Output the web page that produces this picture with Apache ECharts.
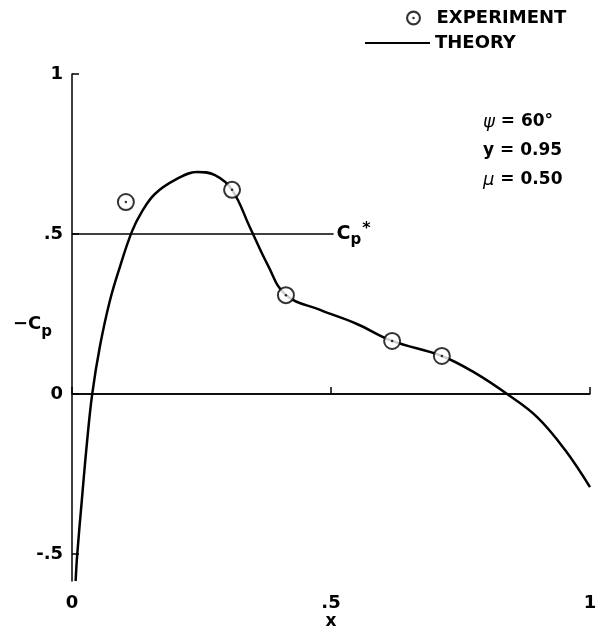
<!DOCTYPE html>
<html>
<head>
<meta charset="utf-8">
<script src="https://cdn.jsdelivr.net/npm/echarts@6/dist/echarts.min.js"></script>
<style>html,body{margin:0;padding:0;background:#fff}#c{width:603px;height:632px}</style>
</head>
<body>
<div id="c"></div>
<script>
// Theory curve (x, -Cp)
const theoryX = [0.007,0.010,0.019,0.029,0.039,0.054,0.073,0.093,0.116,0.135,0.160,0.199,0.241,0.276,0.309,0.344,0.378,0.413,0.479,0.550,0.618,0.714,0.778,0.840,0.898,0.952,1.000];
const theoryY = [-0.584,-0.503,-0.331,-0.150,0.000,0.150,0.291,0.400,0.509,0.570,0.625,0.669,0.694,0.684,0.638,0.519,0.403,0.309,0.263,0.219,0.166,0.119,0.066,0.000,-0.072,-0.175,-0.291];
// Experiment points
const expX = [0.104,0.309,0.413,0.618,0.714];
const expY = [0.600,0.638,0.309,0.166,0.119];
// Tick labels
const xTicks = [0, 0.5, 1];
const yTicks = [-0.5, 0, 0.5, 1];
const xTickLabels = ['0', '.5', '1'];
const yTickLabels = ['-.5', '0', '.5', '1'];
// Reference lines: zero line and Cp* level
const zeroLevel = 0;
const cpStarLevel = 0.5;
const cpStarEnd = 0.505;
// Annotations
const notes = ['{g|ψ} = 60°', 'y = 0.95', '{g|μ} = 0.50'];

const FONT = 'DejaVu Sans';
const chart = echarts.init(document.getElementById('c'), null, {renderer: 'canvas'});
const ringDot = 'path://M7,0A7,7,0,1,1,-7,0A7,7,0,1,1,7,0ZM5,0A5,5,0,1,0,-5,0A5,5,0,1,0,5,0ZM1.2,0A1.2,1.2,0,1,1,-1.2,0A1.2,1.2,0,1,1,1.2,0Z';
const expData = expX.map((x, i) => [x, expY[i]]);

const option = {
  animation: false,
  backgroundColor: '#fff',
  grid: {left: 72, right: 13, top: 74, bottom: 51, containLabel: false, outerBoundsMode: 'none'},
  legend: [
    {data: [{name: 'EXPERIMENT', icon: ringDot, itemStyle: {color: '#000', borderWidth: 0}}], left: 401, top: 4, itemWidth: 36, itemHeight: 15,
     textStyle: {fontFamily: FONT, fontWeight: 'bold', fontSize: 18, color: '#000'}, selectedMode: false},
    {data: [{name: 'THEORY', icon: 'rect'}], left: 360, top: 29, itemWidth: 65, itemHeight: 2,
     textStyle: {fontFamily: FONT, fontWeight: 'bold', fontSize: 18, color: '#000'}, selectedMode: false}
  ],
  xAxis: {
    type: 'value', min: 0, max: 1, interval: 0.5,
    name: 'x', nameLocation: 'middle', nameGap: 32, nameMoveOverlap: false,
    nameTextStyle: {fontFamily: FONT, fontWeight: 'bold', fontSize: 17, color: '#000'},
    axisLine: {show: true, lineStyle: {color: '#000', width: 1.5}},
    axisTick: {show: true, inside: true, length: 7, lineStyle: {color: '#000', width: 1.5}},
    axisLabel: {margin: 13, fontFamily: FONT, fontWeight: 'bold', fontSize: 18, color: '#000',
      formatter: v => { const i = xTicks.indexOf(v); return i >= 0 ? xTickLabels[i] : ''; }},
    splitLine: {show: false}
  },
  yAxis: {
    type: 'value', min: -0.584, max: 1,
    name: '{a|−C}{s|p}', nameLocation: 'middle', nameRotate: 0, nameGap: 20, nameMoveOverlap: false,
    nameTextStyle: {rich: {
      a: {fontFamily: FONT, fontWeight: 'bold', fontSize: 18, color: '#000', padding: [0,0,6,0]},
      s: {fontFamily: FONT, fontWeight: 'bold', fontSize: 15, color: '#000', padding: [10,0,0,0]}
    }},
    axisLine: {show: true, lineStyle: {color: '#000', width: 1.5}},
    axisTick: {show: true, inside: true, length: 7, customValues: yTicks, lineStyle: {color: '#000', width: 1.5}},
    axisLabel: {margin: 9, fontFamily: FONT, fontWeight: 'bold', fontSize: 18, color: '#000', customValues: yTicks,
      formatter: v => { const i = yTicks.indexOf(v); return i >= 0 ? yTickLabels[i] : ''; }},
    splitLine: {show: false}
  },
  series: [
    {
      name: 'THEORY', type: 'line', symbol: 'none', smooth: 0.4,
      data: theoryX.map((x, i) => [x, theoryY[i]]),
      lineStyle: {color: '#000', width: 2.5},
      itemStyle: {color: '#000'},
      z: 3,
      markLine: {
        silent: true, symbol: ['none', 'none'], animation: false,
        lineStyle: {color: '#000', width: 1.5, type: 'solid'},
        data: [
          [{coord: [0, zeroLevel], label: {show: false}}, {coord: [1, zeroLevel]}],
          [{coord: [0, cpStarLevel]}, {coord: [cpStarEnd, cpStarLevel]}]
        ],
        label: {show: true, position: 'end', distance: 3,
          formatter: '{c|C}{p|p}{s|*}',
          rich: {
            c: {fontFamily: FONT, fontWeight: 'bold', fontSize: 19, color: '#000'},
            p: {fontFamily: FONT, fontWeight: 'bold', fontSize: 15, color: '#000', padding: [12,0,0,0]},
            s: {fontFamily: FONT, fontWeight: 'bold', fontSize: 16, color: '#000', padding: [0,0,10,1]}
          }}
      }
    },
    {
      name: 'EXPERIMENT', type: 'scatter', symbol: 'circle', symbolSize: 16,
      data: expData,
      itemStyle: {color: '#fff', borderColor: '#000', borderWidth: 2}, z: 4
    },
    {
      name: 'EXPERIMENT', type: 'scatter', symbol: 'circle', symbolSize: 2.5,
      data: expData,
      itemStyle: {color: '#000'}, z: 5
    }
  ],
  graphic: notes.map((t, i) => ({
    type: 'text', left: 483, top: 113 + i * 29,
    style: {text: t, fontFamily: FONT, fontWeight: 'bold', fontSize: 17, fill: '#000',
      rich: {g: {fontFamily: FONT, fontStyle: 'italic', fontWeight: 'normal', fontSize: 18, fill: '#000'}}}
  }))
};
chart.setOption(option);
</script>
</body>
</html>
